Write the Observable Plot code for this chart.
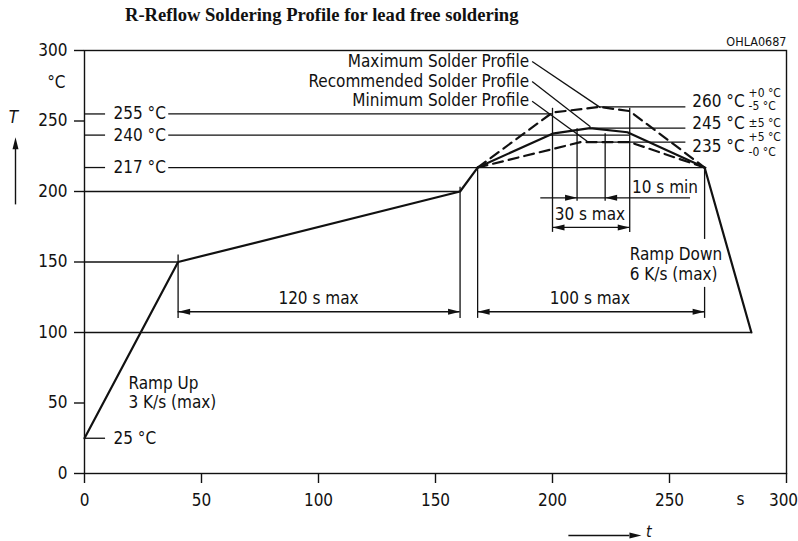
<!DOCTYPE html>
<html><head><meta charset="utf-8">
<script src="https://cdn.jsdelivr.net/npm/d3@7"></script>
<script src="https://cdn.jsdelivr.net/npm/@observablehq/plot@0.6"></script>
<style>
body{margin:0;background:#fff;}
#title{height:30px;box-sizing:border-box;padding:5px 0 0 125px;font:bold 18.6px "Liberation Serif","Times New Roman",serif;line-height:20px;color:#111;white-space:nowrap;}
</style></head><body>
<div id="title">R-Reflow Soldering Profile for lead free soldering</div>
<div id="chart"></div>
<script>
// ---- data ----
const xTicks = [0, 50, 100, 150, 200, 250, 300];
const yTicks = [0, 50, 100, 150, 200, 250, 300];

const solidTime = [0, 40, 160.5, 168, 200, 216, 232, 265, 285];
const solidTemp = [25, 150, 200, 217, 241, 245, 242, 217, 100];
const maxTime = [168, 200, 220, 233, 265];
const maxTemp = [217, 256, 260, 257, 217];
const minTime = [168, 212, 233, 265];
const minTemp = [217, 235, 235, 217];

// horizontal reference segments
const hRefY  = [100, 150, 200, 217, 217, 240, 240, 255, 255, 25, 260, 245, 235];
const hRefX1 = [0,   0,   0,   0,   36,  0,   36,  0,   36,  0,  220, 217, 215];
const hRefX2 = [285, 40,  160.5, 9, 266, 9,   233, 9,   200, 9,  257, 257, 257];
// vertical reference segments
const vRefX  = [40,  160.5, 168, 265, 265, 200, 210.5, 222.5, 233];
const vRefY1 = [155, 203,   217, 217, 132, 259, 244.5, 241,   259];
const vRefY2 = [110, 110,   110, 166, 110, 171, 193,   193,   171];

// dimension lines
const dimLabels = ["120 s max", "100 s max", "30 s max", "10 s min"];
const dimY  = [114.7, 114.7, 174.5, 195.5];
const dimX1 = [40, 168, 200, 195];
const dimX2 = [160.5, 265, 233, 259];
const dimTextX = [100, 216, 216, 234];
const dimTextY = [124.4, 124.4, 183.4, 202.6];
const dimTextAnchor = ["middle", "middle", "middle", "start"];
// arrow heads (tip position, direction in degrees)
const headX = [40, 160.5, 168, 265, 200, 233, 210.5, 222.5];
const headY = [114.7, 114.7, 114.7, 114.7, 174.5, 174.5, 195.5, 195.5];
const headDir = [180, 0, 180, 0, 180, 0, 0, 180];

// profile names with leader lines
const profileNames = ["Maximum Solder Profile", "Recommended Solder Profile", "Minimum Solder Profile"];
const nameX = [190, 190, 190];
const nameY = [292.5, 278.3, 264.7];
const leadX1 = [191.3, 191.3, 191.3];
const leadY1 = [292.2, 278, 264];
const leadX2 = [220.5, 216.2, 214.8];
const leadY2 = [259.5, 246, 235.7];

// temperature labels
const leftLabels = ["255 °C", "240 °C", "217 °C", "25 °C"];
const leftLabelY = [255, 240, 217, 25];
const rightLabels = ["260 °C", "245 °C", "235 °C"];
const rightLabelY = [260, 245, 235];
const rightShift = [-5.5, -5.4, 4];
const supTop = ["+0 °C", "", "+5 °C"];
const supMid = ["", "±5 °C", ""];
const supBot = ["-5 °C", "", "-0 °C"];

const notes = ["Ramp Up", "3 K/s (max)", "Ramp Down", "6 K/s (max)"];
const noteX = [18.8, 18.8, 233, 233];
const noteY = [64, 50.6, 155, 140.8];

const tArrowX = [207, 238];
const tArrowOffset = 62;
const TArrowY = [190.5, 238.4];

// ---- drawing ----
const ink = "#111";
const fontFam = "'DejaVu Sans Condensed','Liberation Sans Narrow',sans-serif";
const fs = 17;
const fsSmall = 12;
const arrowHead = {draw(ctx) { ctx.moveTo(0, 0); ctx.lineTo(-12, -3); ctx.lineTo(-12, 3); ctx.closePath(); }};

const zip = (keys, ...arrs) => arrs[0].map((_, i) => Object.fromEntries(keys.map((k, j) => [k, arrs[j][i]])));
const solid = zip(["t", "v"], solidTime, solidTemp);
const maxP = zip(["t", "v"], maxTime, maxTemp);
const minP = zip(["t", "v"], minTime, minTemp);
const hRefs = zip(["y", "x1", "x2"], hRefY, hRefX1, hRefX2);
const vRefs = zip(["x", "y1", "y2"], vRefX, vRefY1, vRefY2);
const dims = zip(["label", "y", "x1", "x2", "tx", "ty", "anchor"], dimLabels, dimY, dimX1, dimX2, dimTextX, dimTextY, dimTextAnchor);
const heads = zip(["x", "y", "dir"], headX, headY, headDir);
const names = zip(["text", "x", "y"], profileNames, nameX, nameY);
const leaders = zip(["x1", "y1", "x2", "y2"], leadX1, leadY1, leadX2, leadY2);
const lefts = zip(["text", "y"], leftLabels, leftLabelY);
const rights = zip(["text", "y", "dy", "top", "mid", "bot"], rightLabels, rightLabelY, rightShift, supTop, supMid, supBot);
const noteRows = zip(["text", "x", "y"], notes, noteX, noteY);
const up = rights.filter(d => d.dy < 0), down = rights.filter(d => d.dy > 0);
const lastTick = xTicks[xTicks.length - 1];

const plot = Plot.plot({
  width: 798, height: 511,
  marginLeft: 84, marginRight: 12, marginTop: 20, marginBottom: 68,
  style: {fontFamily: fontFam, fontSize: fs + "px", color: ink, background: "#fff", overflow: "visible"},
  x: {domain: [0, 300]},
  y: {domain: [0, 300]},
  marks: [
    Plot.frame({stroke: ink, strokeWidth: 1.4}),
    Plot.axisX({ticks: xTicks, tickSize: 10, tickPadding: 10, label: null, tickFormat: d => d === lastTick ? "" : d, stroke: ink, strokeWidth: 1.4}),
    Plot.axisX({ticks: [lastTick], tickSize: 0, tickPadding: 20, label: null, tickFormat: d => d, dx: -3}),
    Plot.axisY({ticks: yTicks, tickSize: 10, tickPadding: 7, label: null, tickFormat: d => d, stroke: ink, strokeWidth: 1.4}),
    Plot.ruleY(hRefs, {y: "y", x1: "x1", x2: "x2", stroke: ink, strokeWidth: 1.3}),
    Plot.ruleX(vRefs, {x: "x", y1: "y1", y2: "y2", stroke: ink, strokeWidth: 1.3}),
    Plot.ruleY(dims, {y: "y", x1: "x1", x2: "x2", stroke: ink, strokeWidth: 1.3}),
    Plot.dot(heads, {x: "x", y: "y", rotate: "dir", symbol: arrowHead, fill: ink, stroke: null}),
    Plot.text(dims.filter(d => d.anchor === "middle"), {x: "tx", y: "ty", text: "label", textAnchor: "middle", fill: ink}),
    Plot.text(dims.filter(d => d.anchor === "start"), {x: "tx", y: "ty", text: "label", textAnchor: "start", fill: ink}),
    Plot.line(maxP, {x: "t", y: "v", stroke: ink, strokeWidth: 2.2, strokeDasharray: "10,6"}),
    Plot.line(minP, {x: "t", y: "v", stroke: ink, strokeWidth: 2.2, strokeDasharray: "10,6"}),
    Plot.line(solid, {x: "t", y: "v", stroke: ink, strokeWidth: 2.2}),
    Plot.link(leaders, {x1: "x1", y1: "y1", x2: "x2", y2: "y2", stroke: ink, strokeWidth: 1.3}),
    Plot.text(names, {x: "x", y: "y", text: "text", textAnchor: "end", fill: ink}),
    Plot.text(lefts, {x: 12.4, y: "y", text: "text", textAnchor: "start", fill: ink}),
    Plot.text(up, {x: 259.7, y: "y", dy: -5, text: "text", textAnchor: "start", fill: ink}),
    Plot.text(down, {x: 259.7, y: "y", dy: 4, text: "text", textAnchor: "start", fill: ink}),
    Plot.text(up, {x: 283.8, y: "y", dy: -14, text: "top", textAnchor: "start", fontSize: fsSmall, fill: ink}),
    Plot.text(up, {x: 283.8, y: "y", dy: -1, text: "bot", textAnchor: "start", fontSize: fsSmall, fill: ink}),
    Plot.text(up, {x: 283.8, y: "y", dy: -5, text: "mid", textAnchor: "start", fontSize: fsSmall, fill: ink}),
    Plot.text(down, {x: 283.8, y: "y", dy: -4.5, text: "top", textAnchor: "start", fontSize: fsSmall, fill: ink}),
    Plot.text(down, {x: 283.8, y: "y", dy: 10.5, text: "bot", textAnchor: "start", fontSize: fsSmall, fill: ink}),
    Plot.text(noteRows, {x: "x", y: "y", text: "text", textAnchor: "start", fill: ink}),
    // axis decorations
    Plot.text(["°C"], {x: 0, y: 277.6, dx: -19, textAnchor: "end", fill: ink}),
    Plot.text(["T"], {x: 0, y: 252.6, dx: -71, fontStyle: "italic", fill: ink}),
    Plot.ruleX([0], {y1: TArrowY[0], y2: TArrowY[1] - 5, dx: -69, stroke: ink, strokeWidth: 1.4}),
    Plot.dot([0], {x: 0, y: TArrowY[1], dx: -69, rotate: -90, symbol: arrowHead, fill: ink, stroke: null}),
    Plot.text(["s"], {x: 280.3, y: 0, dy: 26, fill: ink}),
    Plot.text(["OHLA0687"], {x: 300, y: 300, dy: -9, textAnchor: "end", fontSize: 12.5, fill: ink}),
    Plot.ruleY([0], {x1: tArrowX[0], x2: tArrowX[1] - 5, dy: tArrowOffset, stroke: ink, strokeWidth: 1.4}),
    Plot.dot([0], {x: tArrowX[1], y: 0, dy: tArrowOffset, rotate: 0, symbol: arrowHead, fill: ink, stroke: null}),
    Plot.text(["t"], {x: tArrowX[1] + 2, y: 0, dy: tArrowOffset - 4, fontSize: 16, textAnchor: "start", fontStyle: "italic", fill: ink})
  ]
});
document.getElementById("chart").appendChild(plot);
</script></body></html>
